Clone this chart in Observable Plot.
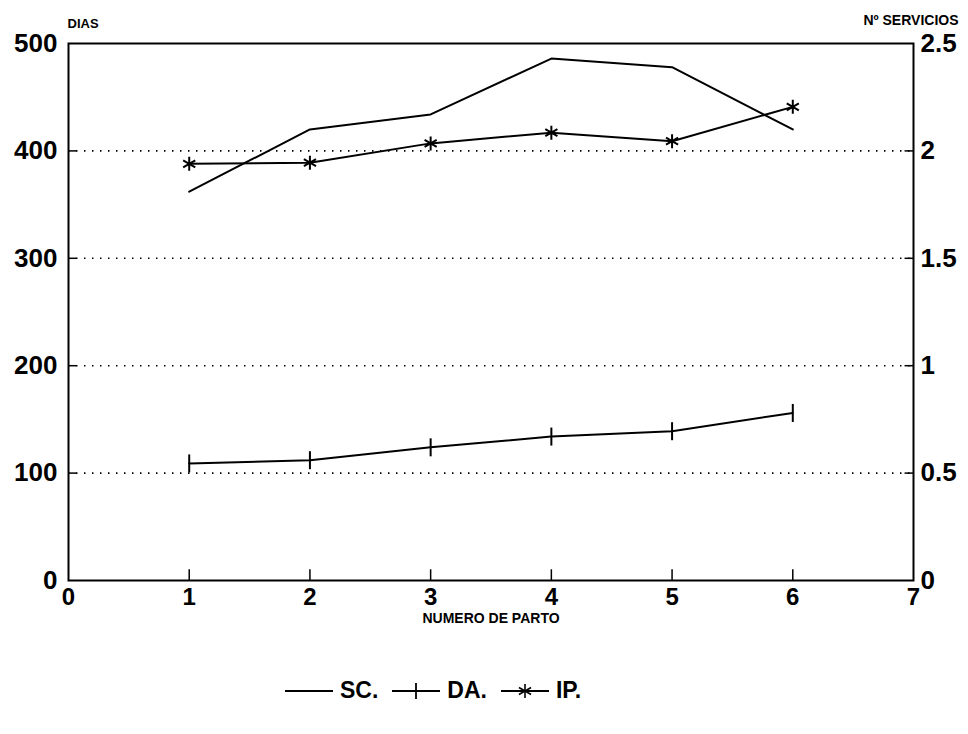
<!DOCTYPE html>
<html>
<head>
<meta charset="utf-8">
<script src="https://cdn.jsdelivr.net/npm/d3@7"></script>
<script src="https://cdn.jsdelivr.net/npm/@observablehq/plot@0.6"></script>
<style>
  html, body { margin: 0; padding: 0; background: #fff; }
  body { width: 968px; height: 734px; overflow: hidden; font-family: "Liberation Sans", Arial, sans-serif; }
  #legend { display: flex; justify-content: flex-start; align-items: center; gap: 14px; margin-top: 37px; padding-left: 285px; font-weight: bold; font-size: 23px; color: #000; }
  #legend .item { display: flex; align-items: center; gap: 7px; }
</style>
</head>
<body>
<div id="chart"></div>
<div id="legend"></div>
<script>
// ---- data ----
const partos = [1, 2, 3, 4, 5, 6];
const sc = [1.81, 2.10, 2.17, 2.43, 2.39, 2.10];   // Nº servicios (right axis)
const da = [109, 112, 124, 134, 139, 156];          // días abiertos (left axis)
const ip = [388, 389, 407, 417, 409, 441];          // intervalo entre partos (left axis)
const seriesNames = ["SC.", "DA.", "IP."];
const xTicks = [0, 1, 2, 3, 4, 5, 6, 7];
const yTicksLeft = [0, 100, 200, 300, 400, 500];
const gridLines = [100, 200, 300, 400];
const rightMax = 2.5;
const leftMax = 500;
const scaleFactor = leftMax / rightMax;

const scData = partos.map((p, i) => ({x: p, y: sc[i] * scaleFactor}));
const daData = partos.map((p, i) => ({x: p, y: da[i]}));
const ipData = partos.map((p, i) => ({x: p, y: ip[i]}));

const vbar = {draw(ctx, size) { const r = Math.sqrt(size / Math.PI); ctx.moveTo(0, -r); ctx.lineTo(0, r); }};
const star = {draw(ctx, size) {
  const r = Math.sqrt(size / Math.PI);
  for (const a of [90, 30, 150]) {
    const t = a * Math.PI / 180;
    ctx.moveTo(r * Math.cos(t), -r * Math.sin(t));
    ctx.lineTo(-r * Math.cos(t), r * Math.sin(t));
  }
}};

const font = "'Liberation Sans', Arial, sans-serif";

const chart = Plot.plot({
  width: 968,
  height: 640,
  marginLeft: 68,
  marginRight: 55,
  marginTop: 43,
  marginBottom: 60,
  style: {fontFamily: font, fontSize: "25px", fontWeight: "bold", color: "#000", background: "#fff", overflow: "visible"},
  x: {domain: [0, 7]},
  y: {domain: [0, 500]},
  marks: [
    Plot.ruleY(gridLines, {x1: 0, x2: 7, stroke: "#000", strokeWidth: 1.6, strokeDasharray: "1.5 6.5"}),
    Plot.ruleY(gridLines, {x1: 0, x2: 0.07, stroke: "#000", strokeWidth: 1.5}),
    Plot.ruleY(gridLines, {x1: 6.93, x2: 7, stroke: "#000", strokeWidth: 1.5}),
    Plot.ruleX(partos, {y1: 0, y2: 10, stroke: "#000", strokeWidth: 1.5}),
    Plot.frame({stroke: "#000", strokeWidth: 2}),
    Plot.axisX(xTicks, {tickSize: 0, tickPadding: 7, label: null, fontSize: 24, tickFormat: d => String(d)}),
    Plot.axisY(yTicksLeft, {anchor: "left", tickSize: 0, tickPadding: 11, label: null, fontSize: 26}),
    Plot.axisY(yTicksLeft, {anchor: "right", tickSize: 0, tickPadding: 7, label: null, fontSize: 26, tickFormat: d => String(d / scaleFactor)}),
    Plot.line(scData, {x: "x", y: "y", stroke: "#000", strokeWidth: 2}),
    Plot.line(daData, {x: "x", y: "y", stroke: "#000", strokeWidth: 2}),
    Plot.dot(daData, {x: "x", y: "y", symbol: vbar, r: 9, fill: "none", stroke: "#000", strokeWidth: 2}),
    Plot.line(ipData, {x: "x", y: "y", stroke: "#000", strokeWidth: 2}),
    Plot.dot(ipData, {x: "x", y: "y", symbol: star, r: 7, fill: "none", stroke: "#000", strokeWidth: 2}),
    Plot.text(["DIAS"], {frameAnchor: "top-left", dx: -1, dy: -25, textAnchor: "start", fontSize: 13, fontWeight: "bold"}),
    Plot.text(["Nº SERVICIOS"], {frameAnchor: "top-right", dx: 45, dy: -28, textAnchor: "end", fontSize: 14, fontWeight: "bold"}),
    Plot.text(["NUMERO DE PARTO"], {frameAnchor: "bottom", dx: 0, dy: 42, fontSize: 14, fontWeight: "bold"})
  ]
});
document.getElementById("chart").appendChild(chart);

// ---- legend ----
const swatch = (name) => {
  let marker = "";
  if (name === "DA.") marker = '<line x1="24" y1="2" x2="24" y2="18" stroke="#000" stroke-width="1.8"/>';
  if (name === "IP.") {
    marker = [90, 30, 150].map(a => {
      const t = a * Math.PI / 180, r = 7;
      return `<line x1="${24 + r * Math.cos(t)}" y1="${10 - r * Math.sin(t)}" x2="${24 - r * Math.cos(t)}" y2="${10 + r * Math.sin(t)}" stroke="#000" stroke-width="1.6"/>`;
    }).join("");
  }
  return `<svg width="48" height="20"><line x1="0" y1="10" x2="48" y2="10" stroke="#000" stroke-width="1.8"/>${marker}</svg>`;
};
document.getElementById("legend").innerHTML = seriesNames.map(n =>
  `<div class="item">${swatch(n)}<span>${n}</span></div>`).join("");
</script>
</body>
</html>
